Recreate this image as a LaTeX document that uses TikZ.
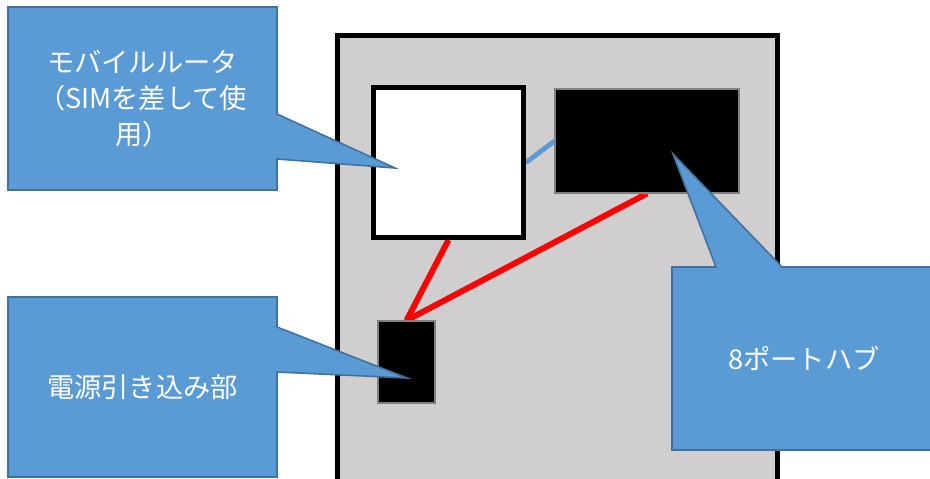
\documentclass[tikz,border=0pt]{standalone}
\usepackage{fontspec}
\setmainfont{Noto Sans CJK JP}
\usetikzlibrary{positioning, backgrounds}
\definecolor{calloutblue}{HTML}{5B9BD5}
\definecolor{calloutedge}{HTML}{41719C}
\definecolor{casegray}{HTML}{D0CECE}
\definecolor{lanblue}{HTML}{5B9BD5}

\begin{document}
\begin{tikzpicture}[x=0.02cm, y=-0.02cm,
				every node/.style={font=\fontsize{15.5pt}{20.5pt}\selectfont},
				casebox/.style={draw=black, line width=2.8pt, fill=casegray},
				devicebox/.style={draw=black, line width=2.8pt, fill=white, inner sep=0pt},
				blackbox/.style={draw=gray, line width=0.6pt, fill=black, inner sep=0pt},
				calloutshape/.style={draw=calloutedge, line width=0.9pt, fill=calloutblue},
				calloutlabel/.style={text=white, align=center},
				powerwire/.style={red, line width=3.4pt},
				lanwire/.style={lanblue, line width=2.8pt}
			]
			\clip (0,0) rectangle (930,478);

			% Devices inside the case
			\node[devicebox, minimum width=3cm, minimum height=3cm] (router) at (448.5,162.5) {};
			\node[blackbox, minimum width=3.68cm, minimum height=2.08cm] (hub) at (647,141) {};
			\node[blackbox, minimum width=1.14cm, minimum height=1.64cm] (power) at (406.5,362) {};

			% Case and cables behind the devices
			\begin{scope}[on background layer]
				\draw[casebox] (337.5,35.5) rectangle (777.5,520);
				\draw[lanwire] (router.east) -- (hub.west);
				\draw[powerwire] (power.north) -- (router.south);
				\draw[powerwire] (power.north) -- (hub.south);
			\end{scope}

			% Callout tips
			\coordinate (routertip) at (395,168);
			\coordinate (powertip) at (407,378);
			\coordinate (hubtip) at (673,154);

			% Callouts
			\draw[calloutshape] (8,7) -- (277,7) -- (277,114) -- (routertip)
			-- (277,159) -- (277,190) -- (8,190) -- cycle;
			\node[calloutlabel] (routerlabel) at (142.5,98.5) {モバイルルータ\\（SIMを差して使\\用）};

			\draw[calloutshape] (8,297) -- (277,297) -- (277,327) -- (powertip)
			-- (277,372) -- (277,477) -- (8,477) -- cycle;
			\node[calloutlabel] (powerlabel) at (142.5,387) {電源引き込み部};

			\draw[calloutshape] (672,267) -- (716,267) -- (hubtip)
			-- (782,267) -- (940,267) -- (940,450) -- (672,450) -- cycle;
			\node[calloutlabel] (hublabel) at (804,358) {8ポートハブ};

		\end{tikzpicture}
\end{document}
